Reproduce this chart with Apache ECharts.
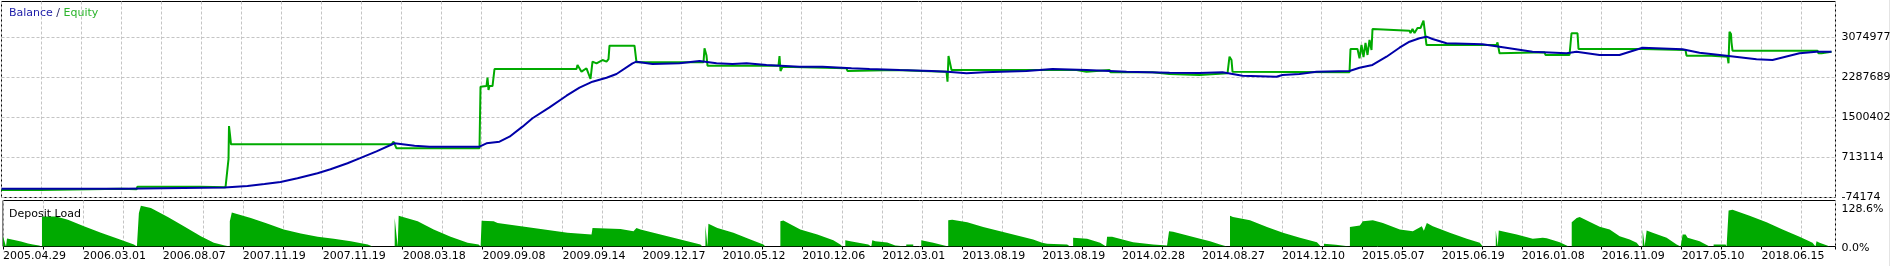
<!DOCTYPE html>
<html><head><meta charset="utf-8">
<script src="https://cdn.jsdelivr.net/npm/echarts@6/dist/echarts.min.js"></script>
<style>html,body{margin:0;padding:0;background:#fff;overflow:hidden}#c{width:1894px;height:266px}</style>
</head><body><div id="c"></div>
<script>
// x-axis date labels (one every second gridline)
const tickLabels = ['2005.04.29','2006.03.01','2006.08.07','2007.11.19','2007.11.19','2008.03.18','2009.09.08','2009.09.14','2009.12.17','2010.05.12','2010.12.06','2012.03.01','2013.08.19','2013.08.19','2014.02.28','2014.08.27','2014.12.10','2015.05.07','2015.06.19','2016.01.08','2016.11.09','2017.05.10','2018.06.15'];
const yTicks = [-74174, 713114, 1500402, 2287689, 3074977];
const loadTicks = [0, 128.6];

// [test step, balance]
const balance = [[0,100000],[121,100000],[122,120000],[223,122000],[224,140000],[246,150000],[263,191000],[279,231000],[296,304000],[316,402000],[329,481000],[346,599000],[358,696000],[375,835000],[393,993000],[394,979000],
[413,945000],[428,926000],[478,926000],[485,993000],[498,1024000],[508,1123000],[521,1320000],[531,1485000],[548,1701000],[565,1929000],[578,2087000],[591,2205000],[605,2284000],[615,2357000],[631,2567000],[635,2599000],[651,2553000],[678,2567000],[698,2612000],[715,2567000],[731,2553000],[745,2567000],[765,2534000],[798,2500000],
[821,2500000],[850,2469000],[868,2455000],[898,2435000],[930,2416000],[946,2402000],[965,2370000],[983,2390000],[1025,2416000],[1038,2435000],[1051,2455000],[1085,2435000],[1108,2416000],[1125,2402000],[1168,2382000],[1198,2375000],
[1221,2390000],[1241,2323000],[1275,2303000],[1281,2337000],[1298,2357000],[1315,2402000],[1348,2416000],[1358,2481000],[1371,2534000],[1385,2697000],[1398,2874000],[1408,2992000],[1418,3059000],[1425,3091000],[1431,3045000],[1445,2961000],[1481,2941000],[1498,2894000],[1531,2796000],[1565,2764000],[1575,2796000],[1598,2730000],
[1618,2730000],[1641,2874000],[1681,2843000],[1698,2776000],[1725,2717000],[1755,2646000],[1771,2632000],[1798,2764000],[1815,2796000],[1816,2829000],[1820,2796000],[1830,2796000]];

// [test step, equity]
const equity = [[0,73000],[39,73000],[40,100000],[120,100000],[121,87000],[135,87000],[136,139000],[199,139000],[200,127000],[224,127000],[226,113000],[227,680000],[227.5,1333000],[228.5,1160000],[229.5,973000],[390,973000],[392,1024000],[393,1024000],[395,894000],
[478,894000],[479,2107000],[485,2120000],[486,2284000],[487,2042000],[488,2120000],[491,2120000],[493,2455000],[575,2455000],[576,2534000],[578,2534000],[580,2402000],[585,2469000],[589,2258000],[591,2599000],[595,2567000],[601,2632000],[605,2599000],[607,2650000],[608,2914000],[633,2914000],[635,2587000],[702,2587000],[703,2862000],[705,2720000],[706,2520000],[777,2520000],[778,2711000],[779,2416000],[781,2500000],
[845,2469000],[846,2416000],[848,2435000],[895,2435000],[896,2416000],[921,2416000],[922,2402000],[945,2402000],[946,2205000],[947,2711000],[948,2672000],[950,2435000],[1075,2435000],[1076,2402000],[1085,2402000],[1086,2435000],[1108,2435000],[1109,2390000],[1151,2390000],[1152,2357000],[1168,2357000],[1169,2337000],[1198,2337000],[1199,2370000],
[1226,2370000],[1227,2350000],[1228,2697000],[1230,2632000],[1231,2402000],[1233,2390000],[1348,2390000],[1349,2849000],[1356,2849000],[1358,2666000],[1360,2927000],[1362,2691000],[1364,2967000],[1366,2731000],[1368,3026000],[1370,2829000],[1371,3242000],[1372,3209000],[1408,3209000],[1409,3164000],[1411,3242000],[1413,3164000],[1416,3262000],[1419,3262000],[1422,3406000],[1424,3406000],[1425,2927000],[1495,2927000],[1496,2980000],[1498,2764000],[1499,2784000],[1543,2784000],[1544,2730000],[1568,2730000],[1569,2711000],[1570,3158000],[1576,3158000],[1577,2849000],
[1641,2849000],[1642,2829000],[1684,2829000],[1685,2717000],[1710,2717000],[1711,2697000],[1726,2697000],[1727,2567000],[1728,3189000],[1729.5,3144000],[1730,2980000],[1731,2815000],[1816,2815000],[1817,2764000],[1820,2764000],[1821,2796000],[1830,2796000]];

// [test step, deposit load %]
const depositLoad = [[0,28.6],[2,28.6],[3,0],[4,22.2],[10,18.6],[18,13.9],[25,8.3],[30,5.6],[36,2.8],[38,0],
[39,0],[39,84.2],[53,84.2],[65,75],[81,56.4],[98,38.1],[115,21.4],[131,5.6],[134,0],
[136,0],[136,93.7],[138,114],[148,107.6],[165,82.6],[181,56.4],[198,28.6],[211,10.3],[222,2.8],[224,0],
[227,0],[227,70.3],[229,95.4],[248,79.8],[265,63.9],[281,47.3],[298,36.1],[315,27],[331,21.4],[348,14.7],[365,5.6],[370,0],
[392,0],[392,79.8],[394,79.8],[395,0],[396,0],[396,86.2],[398,86.2],[415,70.3],[431,47.3],[448,27],[465,10.3],[476,5.6],[478,0],
[479,0],[479,72.3],[491,70.3],[495,65.9],[531,52],[565,38.1],[589,33.4],[590,52],[618,49.2],[631,42.5],[634,52],[638,47.3],[665,28.6],[681,17.5],[698,5.6],[700,0],
[703,0],[703,58.4],[704,58.4],[705,0],[706,0],[706,63.9],[715,52],[731,38.1],[748,19.5],[761,5.6],[763,0],
[778,0],[778,70.3],[781,73],[798,47.3],[815,33.4],[831,17.5],[838,5.6],[840,0],
[843,0],[843,17.5],[848,14.7],[866,5.6],[869,0],[870,0],[870,17.5],[873,14.7],[885,11.1],[893,2.8],[895,0],
[904,0],[904,5.6],[911,5.6],[911,0],
[919,0],[919,17.5],[931,10.3],[942,2.8],[944,0],
[946,0],[946,73.1],[950,75.1],[965,67.6],[981,54.8],[998,42.5],[1015,30.6],[1031,19.5],[1040,10.3],[1045,7.5],[1065,5.6],[1068,0],
[1071,0],[1071,24.2],[1085,21.4],[1098,10.3],[1104,0],[1105,0],[1105,27],[1110,27],[1131,12],[1151,5.6],[1165,2.8],[1166,0],
[1167,0],[1167,42.5],[1171,40.9],[1198,22],[1208,14.7],[1218,5.6],[1225,0],
[1228,0],[1228,86.2],[1231,82.6],[1248,73.1],[1265,54.8],[1281,38.1],[1298,24.2],[1315,12],[1319,0],
[1322,0],[1322,8],[1334,5],[1335,0],
[1348,0],[1348,54.8],[1358,58.4],[1361,70.3],[1371,73.1],[1381,65.9],[1398,47.3],[1411,42.5],[1420,56.4],[1422,44],[1425,65.9],[1431,56.4],[1448,38.1],[1465,21.4],[1478,10.3],[1481,0],
[1494,0],[1494,45.3],[1495,45.3],[1496,0],[1497,0],[1497,44.5],[1515,33.4],[1531,21.4],[1541,24.2],[1545,23],[1558,12],[1567,0],
[1570,0],[1570,67.6],[1575,79.8],[1578,82.6],[1598,55],[1608,47.3],[1618,28.6],[1628,19.5],[1635,10.3],[1638,0],
[1641,0],[1641,47.3],[1642,47.3],[1643,0],[1645,0],[1645,44.5],[1651,38.1],[1665,24.2],[1675,5.6],[1679,0],
[1681,0],[1681,33.4],[1684,33.4],[1686,24.2],[1698,14.7],[1708,0],
[1712,0],[1712,5.6],[1724,5.6],[1725,0],
[1727,0],[1727,100.9],[1731,102.9],[1748,86.2],[1765,67.6],[1781,47.3],[1798,27],[1811,10.3],[1814,0],
[1815,0],[1815,14.7],[1818,10.3],[1825,3.6],[1828,0]];

const FONT = 'DejaVu Sans';
const BLUE = '#0000a8', GREEN = '#00aa00';
const gridLine = {show:true, lineStyle:{color:'#c4c4c4', type:[3,2], width:1}};

function xAxisFor(gridIndex, showLabels) {
  return {
    type:'value', gridIndex, min:0, max:1834, interval:40,
    axisLine:{show:false},
    axisTick:{show:showLabels, length:3, lineStyle:{color:'#000'}},
    axisLabel:{show:showLabels, align:'left', margin:4, color:'#000', fontFamily:FONT, fontSize:11,
      formatter: v => (v % 80 === 0 && tickLabels[v / 80]) ? tickLabels[v / 80] : ''},
    splitLine: gridLine
  };
}

const chart = echarts.init(document.getElementById('c'));
chart.setOption({
  animation:false,
  backgroundColor:'#fff',
  title:[
    {left:4, top:3, text:'{b|Balance} {s|/} {e|Equity}',
     textStyle:{fontWeight:'normal', fontSize:11, fontFamily:FONT, rich:{
       b:{color:'#1c1ca8', fontFamily:FONT, fontSize:11, fontWeight:'normal'},
       s:{color:'#202060', fontFamily:FONT, fontSize:11, fontWeight:'normal'},
       e:{color:'#2cb42c', fontFamily:FONT, fontSize:11, fontWeight:'normal'}}}},
    {left:4, top:204, text:'Deposit Load', textStyle:{color:'#000', fontFamily:FONT, fontSize:11, fontWeight:'normal'}}
  ],
  grid:[
    {left:1.5, top:1.5, width:1834, height:196, show:true, borderColor:'#000', borderWidth:1, backgroundColor:'transparent'},
    {left:1.5, top:200.5, width:1834, height:46, show:true, borderColor:'#000', borderWidth:1, backgroundColor:'transparent'}
  ],
  xAxis:[xAxisFor(0, false), xAxisFor(1, true)],
  yAxis:[
    {type:'value', gridIndex:0, position:'right', min:-74174, max:3783538,
     axisLine:{show:false}, axisTick:{show:false, customValues:yTicks},
     axisLabel:{customValues:yTicks, color:'#000', fontFamily:FONT, fontSize:11, margin:6, padding:[3,0,0,0],
       formatter: v => String(Math.round(v))},
     splitLine: gridLine},
    {type:'value', gridIndex:1, position:'right', min:0, max:128.6,
     axisLine:{show:false}, axisTick:{show:false, customValues:loadTicks},
     axisLabel:{customValues:loadTicks, margin:6,
       formatter: v => v === 0 ? '{b|0.0%}' : '{t|' + v.toFixed(1) + '%}',
       rich:{t:{padding:[17,0,0,0], color:'#000', fontFamily:FONT, fontSize:11},
             b:{padding:[3,0,0,0], color:'#000', fontFamily:FONT, fontSize:11}}},
     splitLine:{show:false}}
  ],
  series:[
    {name:'Equity', type:'line', xAxisIndex:0, yAxisIndex:0, data:equity, showSymbol:false,
     lineStyle:{color:GREEN, width:2}, itemStyle:{color:GREEN}, z:2},
    {name:'Balance', type:'line', xAxisIndex:0, yAxisIndex:0, data:balance, showSymbol:false,
     lineStyle:{color:BLUE, width:2}, itemStyle:{color:BLUE}, z:3},
    {name:'Deposit Load', type:'line', xAxisIndex:1, yAxisIndex:1, data:depositLoad, showSymbol:false,
     lineStyle:{width:0, color:GREEN}, areaStyle:{color:GREEN, opacity:1}, itemStyle:{color:GREEN}, z:2}
  ],
  graphic:[{type:'line', shape:{x1:1889.5, y1:0, x2:1889.5, y2:266}, style:{stroke:'#e4e4e4', lineWidth:1}, silent:true}]
});
</script></body></html>
